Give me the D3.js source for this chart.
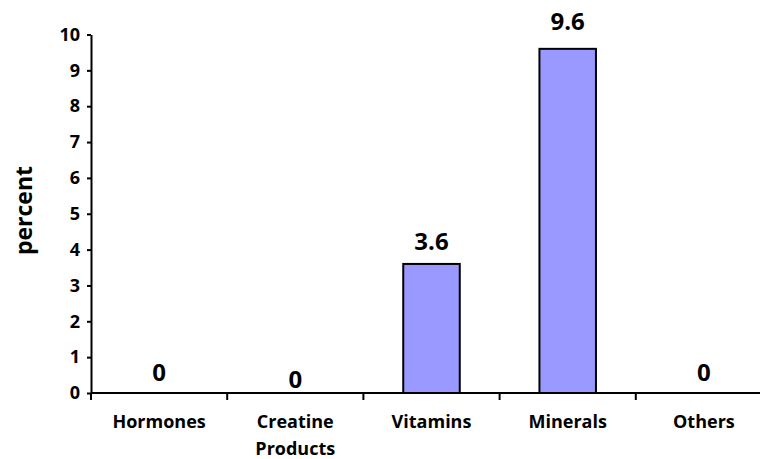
<!DOCTYPE html>
<html>
<head>
<meta charset="utf-8">
<script src="https://cdn.jsdelivr.net/npm/d3@7"></script>
<style>
  html, body { margin: 0; padding: 0; background: #fff; }
  svg { display: block; font-family: "Open Sans", "Liberation Sans", sans-serif; font-weight: bold; }
</style>
</head>
<body>
<svg id="chart" width="760" height="459"></svg>
<script>
// ---- data ----
const categories = ["Hormones", "Creatine Products", "Vitamins", "Minerals", "Others"];
const values = [0, 0, 3.6, 9.6, 0];
const valueLabels = ["0", "0", "3.6", "9.6", "0"];
const yTicks = [0, 1, 2, 3, 4, 5, 6, 7, 8, 9, 10];
const yTitle = "percent";

// ---- layout ----
const W = 760, H = 459;
const x0 = 91, y0 = 393, yTop = 34.5;
const step = 136.2;
const labelLift = [12, 5, 14, 19, 12];

const svg = d3.select("#chart");

const x = d3.scaleBand()
  .domain(categories)
  .range([x0, x0 + step * categories.length])
  .paddingInner(0).paddingOuter(0);

const y = d3.scaleLinear().domain([0, 10]).range([y0, yTop]);

const barW = x.bandwidth() * 0.415;

// bars
svg.append("g").selectAll("rect")
  .data(categories.map((c, i) => ({ c, v: values[i] })).filter(d => d.v > 0))
  .join("rect")
  .attr("x", d => x(d.c) + (x.bandwidth() - barW) / 2)
  .attr("y", d => y(d.v))
  .attr("width", barW)
  .attr("height", d => y(0) - y(d.v))
  .attr("fill", "#9999ff")
  .attr("stroke", "#000")
  .attr("stroke-width", 2);

// value labels
svg.append("g").selectAll("text")
  .data(categories.map((c, i) => ({ c, v: values[i], t: valueLabels[i], l: labelLift[i] })))
  .join("text")
  .attr("x", d => x(d.c) + x.bandwidth() / 2)
  .attr("y", d => y(d.v) - d.l)
  .attr("text-anchor", "middle")
  .attr("font-size", 24)
  .attr("fill", "#000")
  .text(d => d.t);

// y axis
const yAxis = d3.axisLeft(y)
  .tickValues(yTicks)
  .tickFormat(d3.format("d"))
  .tickSize(4)
  .tickSizeOuter(0)
  .tickPadding(7);

const gy = svg.append("g")
  .attr("transform", `translate(${x0},0)`)
  .call(yAxis)
  .attr("font-size", 18)
  .attr("font-family", "'Open Sans', sans-serif")
  .attr("font-weight", "bold");
gy.select(".domain").attr("stroke", "#000").attr("stroke-width", 2);
gy.selectAll(".tick line").attr("stroke", "#000").attr("stroke-width", 2);
gy.selectAll(".tick text")
  .style("font-size", "18px")
  .style("font-weight", "bold")
  .attr("fill", "#000");

// x axis line
svg.append("line")
  .attr("x1", x0).attr("x2", x.range()[1])
  .attr("y1", y0).attr("y2", y0)
  .attr("stroke", "#000").attr("stroke-width", 2);

// x ticks at band boundaries
svg.append("g").selectAll("line")
  .data(categories)
  .join("line")
  .attr("x1", d => x(d)).attr("x2", d => x(d))
  .attr("y1", y0).attr("y2", y0 + 7)
  .attr("stroke", "#000").attr("stroke-width", 2);

// category labels
const cl = svg.append("g").selectAll("text")
  .data(categories)
  .join("text")
  .attr("x", d => x(d) + x.bandwidth() / 2)
  .attr("y", y0 + 35)
  .attr("text-anchor", "middle")
  .attr("font-size", 18)
  .attr("fill", "#000");
cl.each(function(d) {
  const words = d.split(" ");
  const t = d3.select(this);
  words.forEach((w, i) => {
    t.append("tspan")
      .attr("x", x(d) + x.bandwidth() / 2)
      .attr("dy", i === 0 ? 0 : 27)
      .text(w);
  });
});

// y title
svg.append("text")
  .attr("transform", `translate(32,${(163 + 258) / 2}) rotate(-90)`)
  .attr("text-anchor", "middle")
  .attr("font-size", 23)
  .attr("fill", "#000")
  .text(yTitle);
</script>
</body>
</html>
